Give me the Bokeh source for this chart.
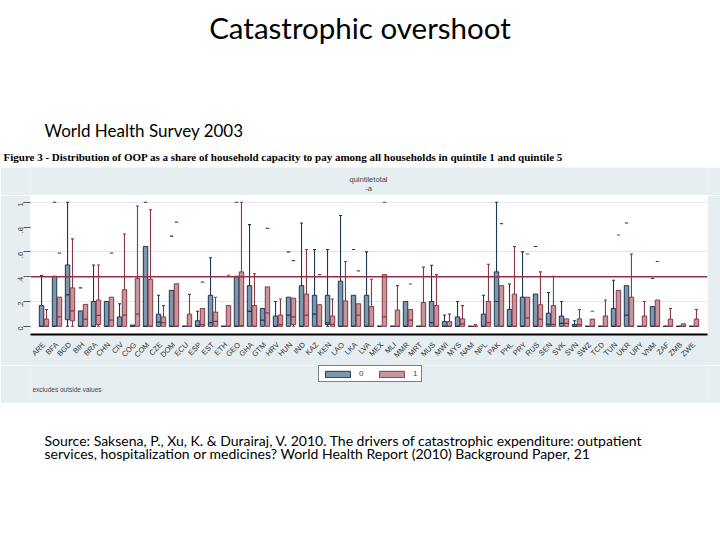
import math
import numpy as np
from bokeh.plotting import figure
from bokeh.models import Range1d, FixedTicker, Span, Label, Legend, LegendItem, Title
from bokeh.layouts import column
from bokeh.embed import file_html
from bokeh.resources import INLINE

# ---------------- data ----------------
countries = ["ARE", "BFA", "BGD", "BIH", "BRA", "CHN", "CIV", "COG", "COM", "CZE",
             "DOM", "ECU", "ESP", "EST", "ETH", "GEO", "GHA", "GTM", "HRV", "HUN",
             "IND", "KAZ", "KEN", "LAO", "LKA", "LVA", "MEX", "MLI", "MMR", "MRT",
             "MUS", "MWI", "MYS", "NAM", "NPL", "PAK", "PHL", "PRY", "RUS", "SEN",
             "SVK", "SVN", "SWZ", "TCD", "TUN", "UKR", "URY", "VNM", "ZAF", "ZMB", "ZWE"]
tick_values = [0, 0.2, 0.4, 0.6, 0.8, 1.0]
tick_labels = ["0", ".2", ".4", ".6", ".8", "1"]
grid_values = [0.2, 0.6, 1.0]
threshold = 0.4
legend_labels = ["0", "1"]

N = float("nan")
# quintile group 0 (blue)
q1_0 = [0, 0, .053, 0, 0, 0, 0, 0, 0, 0,
        0, 0, 0, 0, 0, 0, 0, 0, 0, 0,
        0, 0, .015, 0, 0, 0, 0, 0, 0, 0,
        0, 0, 0, 0, 0, 0, 0, 0, 0, 0,
        0, 0, 0, 0, 0, 0, 0, 0, 0, 0, 0]
med_0 = [0, 0, .253, 0, 0, 0, 0, 0, 0, .033,
         0, 0, 0, .03, 0, 0, .121, .05, 0, .091,
         0, .098, .028, 0, 0, 0, 0, 0, 0, 0,
         .03, 0, 0, 0, 0, .2, 0, 0, 0, .015,
         .023, 0, 0, 0, 0, .091, 0, 0, 0, 0, 0]
q3_0 = [.167, .404, .495, .124, .2, .2, .076, .01, .644, .098,
        .29, 0, .045, .25, 0, .404, .328, .144, .083, .235,
        .328, .25, .25, .364, .25, .25, 0, 0, .2, 0,
        .2, .038, .076, 0, .098, .439, .136, .235, .26, .106,
        .083, .015, 0, 0, .144, .328, 0, .159, 0, 0, 0]
hi_0 = [.41, .404, 1.0, .124, .495, .2, .182, .01, .644, .25,
        .29, 0, .121, .553, 0, .404, .82, .144, .2, .235,
        .833, .62, .62, .894, .25, .6, 0, 0, .2, 0,
        .492, .091, .2, 0, .25, 1.0, .341, .6, .26, .273,
        .2, .045, 0, 0, .371, .328, 0, .159, 0, 0, 0]
lo_0 = [0] * 51
dash_0 = [N, 1.0, N, .31, N, N, N, N, 1.0, N,
          .727, N, N, N, N, 1.0, N, N, N, .6,
          N, N, N, N, .62, N, N, N, N, N,
          N, N, N, N, N, N, N, N, .644, N,
          N, N, N, N, N, .833, N, .386, N, N, N]

# quintile group 1 (red)
q1_1 = [0, 0, .045, 0, .015, 0, 0, 0, 0, 0,
        0, 0, 0, 0, 0, 0, 0, 0, 0, .015,
        0, 0, 0, 0, 0, 0, 0, 0, 0, 0,
        0, 0, 0, 0, 0, 0, 0, 0, 0, 0,
        0, 0, 0, 0, 0, 0, 0, 0, 0, 0, 0]
med_1 = [0, .076, .124, .058, .088, .05, .091, .098, 0, .03,
         0, 0, .013, .04, 0, .005, 0, .109, .013, .076,
         .091, 0, .015, 0, .091, 0, .076, 0, .05, 0,
         0, 0, .02, 0, .03, 0, 0, .068, .058, .015,
         .023, .013, 0, 0, 0, 0, 0, 0, 0, 0, 0]
q3_1 = [.058, .235, .31, .177, .212, .235, .295, .386, .379, .076,
        .343, .098, .144, .114, .167, .439, .167, .318, .091, .227,
        .26, .174, .083, .205, .182, .159, .417, .131, .136, .192,
        .167, .038, .06, 0, .2, .328, .26, .235, .174, .167,
        .06, .06, .058, .083, .29, .235, .083, .212, .058, .02, .058]
hi_1 = [.136, .235, .705, .177, .495, .235, .745, .97, .94, .167,
        .343, .258, .144, .235, .167, 1.0, .424, .318, .22, .227,
        .62, .174, .22, .523, .182, .379, .417, .328, .136, .477,
        .417, .098, .167, .015, .5, .328, .644, .235, .439, .404,
        .06, .136, .058, .212, .29, .583, .2, .212, .144, .02, .136]
lo_1 = [0] * 51
dash_1 = [N, .59, N, N, N, .59, N, N, N, N,
          .84, N, .356, N, .412, N, N, .79, N, .53,
          N, .417, N, N, .447, N, 1.0, N, .341, N,
          N, N, N, N, N, .828, N, .583, N, N,
          N, N, .121, N, .737, N, N, .523, N, N, N]

# ---------------- styles ----------------
W = 720
LB, RB = 30, 13          # common left / right borders (frame spans page x 30..707)
PANEL = "#e7eef2"
BLUE_FILL, BLUE_LINE = "#7f97ad", "#1d3652"
RED_FILL, RED_LINE = "#c4979c", "#8b3845"
SLIDE_FONT = "Lato"
AX_FONT = "Liberation Sans"


def strip(h, frame_h, fill):
    f = figure(width=W, height=h, x_range=Range1d(LB, W - RB), y_range=Range1d(frame_h, 0),
               toolbar_location=None, output_backend="svg", title=None,
               min_border_left=LB, min_border_right=RB, min_border_top=0,
               min_border_bottom=h - frame_h,
               x_axis_type=None, y_axis_type=None, outline_line_color=None,
               background_fill_color=fill, border_fill_color=fill)
    f.grid.visible = False
    return f


def lab(f, x, y, text, font, size, color="black", align="left", style="normal"):
    f.add_layout(Label(x=x, y=y, text=text, text_align=align, text_baseline="middle",
                       text_font=font, text_font_size=size, text_color=color,
                       text_font_style=style))


# ---------------- top: slide title (page y 0..167) ----------------
top = strip(167, 150, "white")
lab(top, 359.5, 27, "Catastrophic overshoot", SLIDE_FONT, "29.5px", align="center")
lab(top, 44, 130, "World Health Survey 2003", SLIDE_FONT, "17px")
top.add_layout(Title(text="Figure 3 - Distribution of OOP as a share of household capacity to pay among all households in quintile 1 and quintile 5",
                     align="left", offset=-27, standoff=0, vertical_align="top",
                     text_font="Liberation Serif", text_font_style="bold",
                     text_font_size="11px", text_color="black"), "below")

# ---------------- header strip of the graph panel (page y 167..195) ----------------
head = strip(28, 28, PANEL)
lab(head, 368, 12, "quintiletotal", AX_FONT, "7.5px", color="#444444", align="center")
lab(head, 368, 21, "-a", AX_FONT, "7.5px", color="#444444", align="center")

# ---------------- chart (page y 195..365, frame 195..343) ----------------
p = figure(width=W, height=170, x_range=Range1d(-1.04, 51.04), y_range=Range1d(-0.066, 1.055),
           toolbar_location=None, output_backend="svg", title=None,
           min_border_left=LB, min_border_right=RB, min_border_top=0, min_border_bottom=22,
           background_fill_color="white", border_fill_color=PANEL, outline_line_color=None)

p.xgrid.visible = False
p.ygrid.ticker = FixedTicker(ticks=grid_values)
p.ygrid.grid_line_color = "#e2e7eb"
p.ygrid.grid_line_width = 1

p.yaxis.ticker = FixedTicker(ticks=tick_values)
p.yaxis.major_label_overrides = dict(zip(tick_values, tick_labels))
p.yaxis.axis_line_color = None
p.yaxis.major_tick_line_color = "#555555"
p.yaxis.major_tick_out = 7
p.yaxis.major_tick_in = 0
p.yaxis.minor_tick_line_color = None
p.yaxis.major_label_orientation = math.pi / 2
p.yaxis.major_label_standoff = 3
p.yaxis.major_label_text_font = AX_FONT
p.yaxis.major_label_text_font_size = "7.5px"
p.yaxis.major_label_text_color = "#333333"

p.xaxis.ticker = FixedTicker(ticks=list(range(len(countries))))
p.xaxis.major_label_overrides = {i: c for i, c in enumerate(countries)}
p.xaxis.major_label_orientation = math.pi / 4
p.xaxis.major_tick_line_color = None
p.xaxis.minor_tick_line_color = None
p.xaxis.axis_line_color = "black"
p.xaxis.axis_line_width = 1.8
p.xaxis.major_label_standoff = 3
p.xaxis.major_label_text_font = AX_FONT
p.xaxis.major_label_text_font_size = "7.5px"
p.xaxis.major_label_text_color = "#333333"

p.add_layout(Span(location=threshold, dimension="width", line_color="#9c2b45", line_width=1.5))


def draw_group(offset, q1, med, q3, hi, lo, dash, fill, line):
    x = np.arange(len(countries)) + offset
    q1, med, q3, hi, lo, dash = (np.array(a, dtype=float) for a in (q1, med, q3, hi, lo, dash))
    m = hi > q3
    p.segment(x0=x[m], x1=x[m], y0=q3[m], y1=hi[m], line_color=line, line_width=1.1)
    p.segment(x0=x[m] - 0.12, x1=x[m] + 0.12, y0=hi[m], y1=hi[m], line_color=line, line_width=1.1)
    m = lo < q1
    p.segment(x0=x[m], x1=x[m], y0=lo[m], y1=q1[m], line_color=line, line_width=1.1)
    p.segment(x0=x[m] - 0.12, x1=x[m] + 0.12, y0=lo[m], y1=lo[m], line_color=line, line_width=1.1)
    p.vbar(x=x, width=0.34, bottom=q1, top=q3, fill_color=fill, line_color=line, line_width=1)
    p.segment(x0=x - 0.17, x1=x + 0.17, y0=med, y1=med, line_color=line, line_width=1.2)
    d = ~np.isnan(dash)
    p.segment(x0=x[d] - 0.13, x1=x[d] + 0.13, y0=dash[d], y1=dash[d], line_color=line, line_width=1.1)


draw_group(-0.19, q1_0, med_0, q3_0, hi_0, lo_0, dash_0, BLUE_FILL, BLUE_LINE)
draw_group(0.19, q1_1, med_1, q3_1, hi_1, lo_1, dash_1, RED_FILL, RED_LINE)

# ---------------- legend strip (page y 365..403) ----------------
leg = strip(38, 38, PANEL)
# legend proxies: one NaN row each, so nothing is drawn in the strip itself
k0 = leg.vbar(x=[N], top=[N], bottom=[N], width=1, fill_color=BLUE_FILL,
              line_color=BLUE_LINE, line_width=1)
k1 = leg.vbar(x=[N], top=[N], bottom=[N], width=1, fill_color=RED_FILL,
              line_color=RED_LINE, line_width=1)
legend = Legend(items=[LegendItem(label=legend_labels[0], renderers=[k0]),
                       LegendItem(label=legend_labels[1], renderers=[k1])],
                orientation="horizontal", location=(288, 21),
                glyph_width=31, glyph_height=8, label_width=5, label_height=8,
                label_text_font=AX_FONT, label_text_font_size="8px",
                label_standoff=6, spacing=12, padding=3, margin=0,
                border_line_color="black", border_line_width=1.5,
                background_fill_color="white", background_fill_alpha=1)
leg.add_layout(legend)
lab(leg, 32, 24, "excludes outside values", AX_FONT, "6.5px", color="#444444")

# ---------------- bottom: source (page y 403..540) ----------------
bot = strip(137, 137, "white")
lab(bot, 44, 37, "Source: Saksena, P., Xu, K. & Durairaj, V. 2010. The drivers of catastrophic expenditure: outpatient",
    SLIDE_FONT, "14px")
lab(bot, 44, 50, "services, hospitalization  or medicines? World Health Report (2010) Background Paper, 21",
    SLIDE_FONT, "14px")

layout = column(top, head, p, leg, bot, spacing=0)
open("out.html", "w").write(file_html(layout, INLINE))
